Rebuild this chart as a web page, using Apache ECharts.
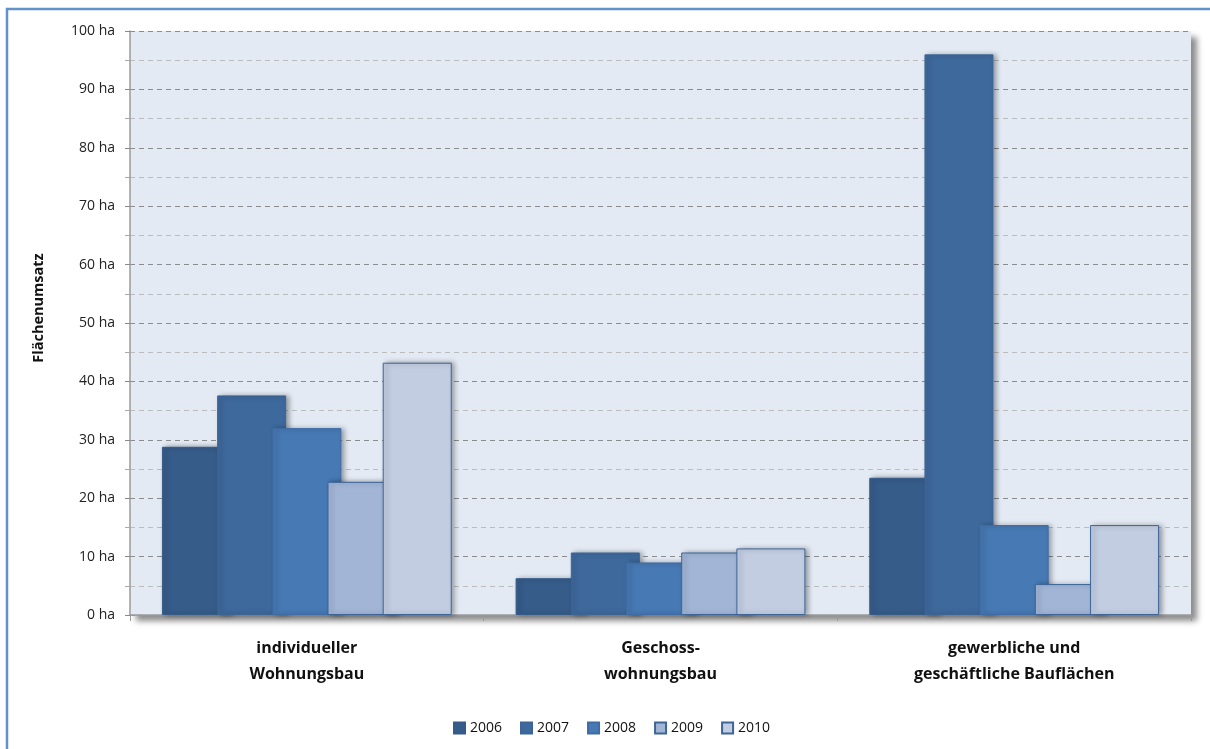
<!DOCTYPE html>
<html>
<head>
<meta charset="utf-8">
<script src="https://cdn.jsdelivr.net/npm/echarts@6/dist/echarts.min.js"></script>
<style>
  html, body { margin: 0; padding: 0; background: #fff; }
  #chart { width: 1210px; height: 749px; }
</style>
</head>
<body>
<div id="chart"></div>
<script>
// Flächenumsatz nach Teilmarkt, 2006–2010
const categories = [
  'individueller\nWohnungsbau',
  'Geschoss-\nwohnungsbau',
  'gewerbliche und\ngeschäftliche Bauflächen'
];
const years = ['2006', '2007', '2008', '2009', '2010'];
const values2006 = [28.8, 6.3, 23.5];
const values2007 = [37.6, 10.7, 96.0];
const values2008 = [32.0, 9.0, 15.4];
const values2009 = [22.8, 10.7, 5.3];
const values2010 = [43.2, 11.4, 15.4];
const yTicks = { min: 0, max: 100, interval: 10, unit: ' ha' };

const seriesValues = [values2006, values2007, values2008, values2009, values2010];
const fills = ['#365C8A', '#3E699C', '#4779B4', '#A2B5D6', '#C2CDE2'];
const borders = ['#355B88', '#3B6597', '#3F6CA4', '#3D6598', '#3D6598'];
const FONT = '"Open Sans", Lato, sans-serif';

const chart = echarts.init(document.getElementById('chart'));

chart.setOption({
  animation: false,
  backgroundColor: '#ffffff',
  textStyle: { fontFamily: FONT },
  graphic: [
    {
      type: 'rect',
      shape: { x: 7, y: 9, width: 1240, height: 800 },
      style: { fill: 'none', stroke: '#6391CB', lineWidth: 2.5 },
      z: 0
    },
    {
      type: 'text',
      x: 39, y: 308,
      rotation: Math.PI / 2,
      style: {
        text: 'Flächenumsatz',
        fontFamily: FONT, fontWeight: 'bold', fontSize: 14.5,
        fill: '#111', align: 'center', verticalAlign: 'middle'
      }
    }
  ],
  grid: {
    left: 130, top: 31, right: 19, bottom: 134,
    show: true,
    backgroundColor: '#E3EAF4',
    borderWidth: 0,
    shadowColor: 'rgba(0,0,0,0.45)',
    shadowBlur: 6,
    shadowOffsetX: 6,
    shadowOffsetY: 6
  },
  legend: {
    data: years,
    bottom: 9,
    left: 448,
    itemWidth: 11,
    itemHeight: 11,
    itemGap: 18,
    icon: 'rect',
    textStyle: { fontFamily: FONT, fontSize: 14, color: '#111' }
  },
  xAxis: {
    type: 'category',
    data: categories,
    axisLine: { lineStyle: { color: '#9a9a9a', width: 1.5 } },
    axisTick: { show: true, length: 6, lineStyle: { color: '#9a9a9a' } },
    axisLabel: {
      fontFamily: FONT, fontWeight: 'bold', fontSize: 16, color: '#111',
      lineHeight: 26, margin: 20
    },
    splitLine: { show: false }
  },
  yAxis: {
    type: 'value',
    min: yTicks.min,
    max: yTicks.max,
    interval: yTicks.interval,
    axisLine: { show: true, lineStyle: { color: '#9a9a9a', width: 1.5 } },
    axisTick: { show: true, length: 5, lineStyle: { color: '#888' } },
    minorTick: { show: true, splitNumber: 2, length: 5, lineStyle: { color: '#aaa' } },
    axisLabel: {
      fontFamily: FONT, fontSize: 14, color: '#222', margin: 15,
      formatter: v => v + yTicks.unit
    },
    splitLine: { lineStyle: { color: '#8c8c8c', type: [5, 4], width: 1 } },
    minorSplitLine: { show: true, lineStyle: { color: '#bcbcbc', type: [5, 4], width: 1 } }
  },
  series: years.map((y, i) => ({
    name: y,
    type: 'bar',
    data: seriesValues[i],
    barWidth: 69,
    barGap: '-20%',
    itemStyle: {
      color: fills[i],
      borderColor: borders[i],
      borderWidth: 1,
      shadowColor: 'rgba(0,0,0,0.35)',
      shadowBlur: 5,
      shadowOffsetX: 3,
      shadowOffsetY: 0
    },
    emphasis: { disabled: true }
  }))
});
</script>
</body>
</html>
